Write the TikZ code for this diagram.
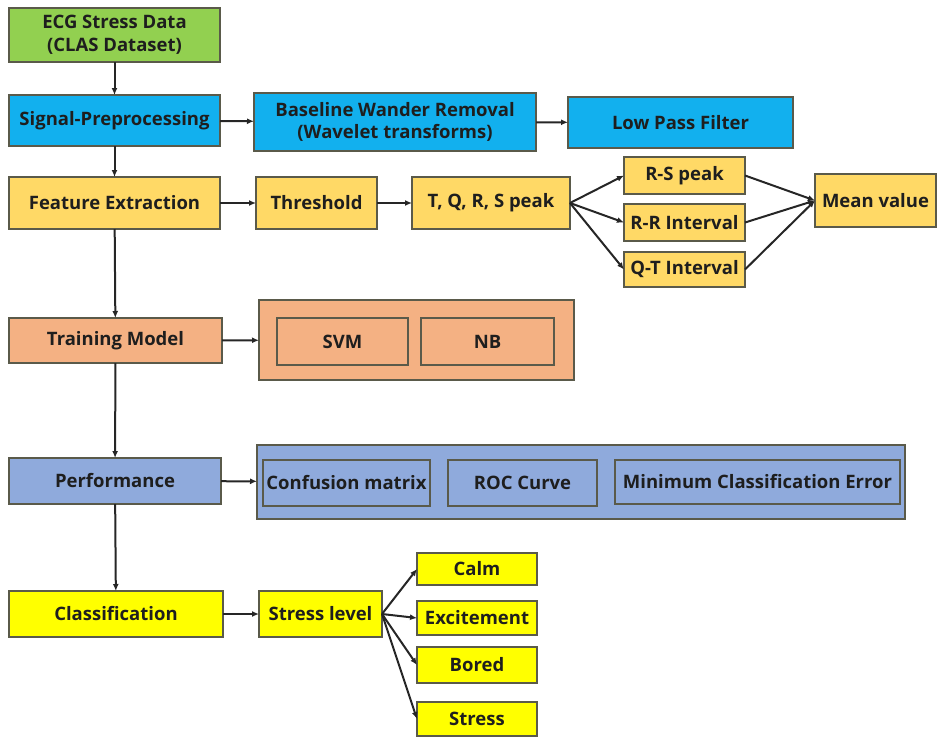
\documentclass[tikz,border=0pt]{standalone}
\usepackage{fontspec}
\setmainfont{Open Sans}
\usetikzlibrary{arrows.meta}
\definecolor{cgreen}{HTML}{92D050}
\definecolor{cblue}{HTML}{12B0EE}
\definecolor{cgold}{HTML}{FFD966}
\definecolor{corange}{HTML}{F4B183}
\definecolor{cperi}{HTML}{8FAADC}
\definecolor{cyellow}{HTML}{FFFF00}
\definecolor{cborder}{HTML}{5A5A4A}
\definecolor{ctext}{HTML}{1E1E1E}
\tikzset{
  box/.style={draw=cborder, line width=1.6pt, inner sep=0pt, outer sep=0pt, align=center,
    text=ctext, font=\fontsize{18.5}{22.5}\selectfont\bfseries},
  conn/.style={draw=black!85, line width=2pt, -{Latex[length=7pt,width=6pt]}}
}
\newcommand{\bx}[8]{% name, style, x1,y1,x2,y2, text, fill
  \node[box, fill=#8, #2, minimum width={(#5-#3)*1pt}, minimum height={(#6-#4)*1pt}]
    (#1) at ({(#3+#5)/2},{(#4+#6)/2}) {#7};}
\begin{document}
\begin{tikzpicture}[x=1pt,y=-1pt]
\useasboundingbox (0,0) rectangle (939,737);
% row 1
\bx{ecg}{}{9}{8}{220}{62}{ECG Stress Data\\(CLAS Dataset)}{cgreen}
% row 2
\bx{sig}{}{9}{95}{220}{146}{Signal-Preprocessing}{cblue}
\bx{bwr}{}{254}{93}{536}{151}{Baseline Wander Removal\\(Wavelet transforms)}{cblue}
\bx{lpf}{}{568}{97}{793}{148}{Low Pass Filter}{cblue}
% row 3
\bx{fe}{}{9}{177}{220}{229}{Feature Extraction}{cgold}
\bx{thr}{}{256}{177}{377}{229}{Threshold}{cgold}
\bx{tqrs}{}{412}{177}{570}{229}{T, Q, R, S peak}{cgold}
\bx{rs}{}{624}{157}{745}{194}{R-S peak}{cgold}
\bx{rr}{}{624}{204}{745}{241}{R-R Interval}{cgold}
\bx{qt}{}{624}{252}{745}{287}{Q-T Interval}{cgold}
\bx{mean}{}{815}{174}{936}{227}{Mean value}{cgold}
% row 4
\bx{tm}{}{9}{318}{222}{363}{Training Model}{corange}
\bx{tmc}{}{259}{300}{574}{380}{}{corange}
\bx{svm}{}{277}{318}{408}{365}{SVM}{corange}
\bx{nb}{}{421}{318}{554}{365}{NB}{corange}
% row 5
\bx{perf}{}{9}{458}{221}{504}{Performance}{cperi}
\bx{pc}{}{257}{445}{905}{519}{}{cperi}
\bx{cm}{}{263}{460}{430}{506}{Confusion matrix}{cperi}
\bx{roc}{}{448}{460}{597}{506}{ROC Curve}{cperi}
\bx{mce}{}{615}{460}{900}{504}{Minimum Classification Error}{cperi}
% row 6
\bx{cls}{}{9}{591}{223}{637}{Classification}{cyellow}
\bx{sl}{}{259}{591}{382}{637}{Stress level}{cyellow}
\bx{calm}{}{417}{553}{537}{585}{Calm}{cyellow}
\bx{exc}{}{417}{601}{537}{635}{Excitement}{cyellow}
\bx{bor}{}{417}{647}{537}{683}{Bored}{cyellow}
\bx{str}{}{417}{702}{537}{736}{Stress}{cyellow}
% vertical chain
\draw[conn] (ecg) -- (sig);
\draw[conn] (sig) -- (fe);
\draw[conn] (fe) -- (tm);
\draw[conn] (tm) -- (perf);
\draw[conn] (perf) -- (cls);
% horizontals
\draw[conn] (sig) -- (bwr);
\draw[conn] (bwr) -- (lpf);
\draw[conn] (fe) -- (thr);
\draw[conn] (thr) -- (tqrs);
\draw[conn] (tqrs.east) -- (rs.west);
\draw[conn] (tqrs.east) -- (rr.west);
\draw[conn] (tqrs.east) -- (qt.west);
\draw[conn] (rs.east) -- (mean.west);
\draw[conn] (rr.east) -- (mean.west);
\draw[conn] (qt.east) -- (mean.west);
\draw[conn] (tm) -- (tmc);
\draw[conn] (perf) -- (pc);
\draw[conn] (cls) -- (sl);
\draw[conn] (sl.east) -- (calm.west);
\draw[conn] (sl.east) -- (exc.west);
\draw[conn] (sl.east) -- (bor.west);
\draw[conn] (sl.east) -- (str.west);
\end{tikzpicture}
\end{document}
